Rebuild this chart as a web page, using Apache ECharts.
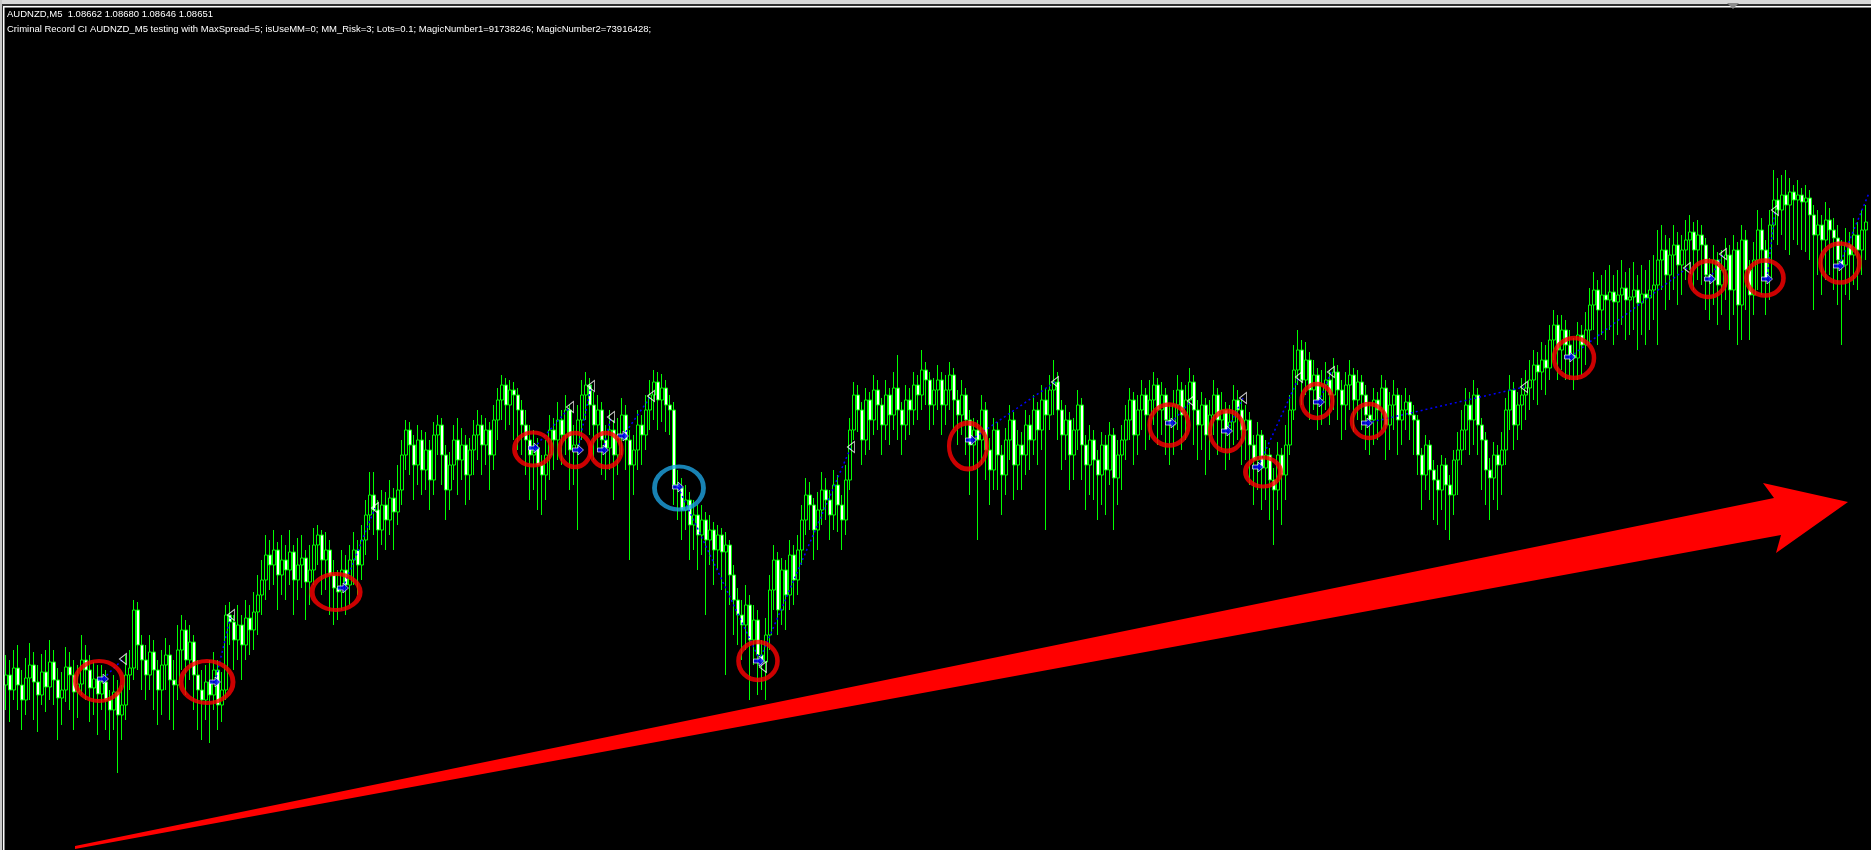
<!DOCTYPE html>
<html><head><meta charset="utf-8">
<script src="https://cdn.jsdelivr.net/npm/echarts@6/dist/echarts.min.js"></script>
<style>html,body{margin:0;padding:0;background:#000;overflow:hidden}#c{width:1871px;height:850px}</style>
</head><body><div id="c"></div>
<script>
// Prices are stored as points above BASE (1 point = 0.00001)
const BASE = 1.08022, POINT = 0.00001;

const openPts = [
165,175,160,182,165,150,172,185,168,155,178,163,188,170,152,160,183,175,158,166,190,180,162,171,
156,168,150,140,158,135,145,175,
182,240,205,
190,175,198,180,160,185,195,170,
165,200,220,190,208,175,
160,150,168,155,180,145,160,235,
228,210,225,205,232,220,
238,255,270,295,285,300,
275,290,280,298,270,285,292,268,
280,305,315,290,300,275,262,
258,280,265,290,300,285,310,335,
355,340,320,345,330,352,338,
360,395,420,405,385,
410,380,400,370,415,425,395,360,385,410,390,405,375,
400,415,425,405,420,395,
430,450,465,445,460,455,
440,425,410,395,402,385,375,395,420,410,
430,415,440,400,405,430,455,465,
445,425,440,410,402,420,395,415,
435,410,385,400,425,
415,440,455,468,450,462,
445,440,365,
362,340,350,325,335,315,330,
310,320,300,315,298,
305,275,250,235,
225,245,210,230,195,188,
215,260,290,240,280,
255,295,270,
300,330,355,345,320,340,360,
350,335,365,345,330,
370,420,455,440,410,
450,430,460,445,425,455,435,462,
440,425,450,440,465,455,480,470,445,
460,470,445,460,475,450,435,455,
430,405,420,410,
440,400,380,420,395,375,410,430,385,
405,395,425,410,440,420,450,435,460,
468,440,415,430,395,420,445,405,385,
410,390,375,405,380,415,372,395,
410,430,450,415,440,455,
435,450,465,440,455,430,425,445,460,435,450,468,
440,425,445,415,435,455,430,440,420,428,
450,440,420,430,405,390,415,382,
395,370,360,395,375,
405,440,480,500,470,490,460,475,450,
465,470,455,478,460,445,465,475,450,468,
455,435,430,450,440,462,425,445,455,430,
440,448,435,
430,395,375,405,380,
370,360,385,365,355,390,
400,420,445,430,455,425,
410,380,372,395,385,
400,440,460,425,445,455,
462,470,485,478,490,
482,510,525,500,520,
505,495,492,515,505,
520,545,560,540,
555,550,558,548,555,562,550,553,560,547,556,552,560,
565,590,600,575,595,605,585,
600,610,618,600,615,
605,575,570,590,565,580,
595,560,600,545,610,580,555,
590,620,600,572,
625,650,640,655,645,658,650,655,648,
652,635,615,625,610,630,620,
612,590,585,605,595,615,600,620
];

const closePts = [
175,160,182,165,150,172,185,168,155,178,163,188,170,152,160,183,175,158,166,190,180,162,171,156,
168,150,140,158,135,145,175,182,
240,205,190,
175,198,180,160,185,195,170,165,
200,220,190,208,175,160,
150,168,155,180,145,160,235,228,
210,225,205,232,220,238,
255,270,295,285,300,275,
290,280,298,270,285,292,268,280,
305,315,290,300,275,262,258,
280,265,290,300,285,310,335,355,
340,320,345,330,352,338,360,
395,420,405,385,410,
380,400,370,415,425,395,360,385,410,390,405,375,400,
415,425,405,420,395,430,
450,465,445,460,455,440,
425,410,395,402,385,375,395,420,410,430,
415,440,400,405,430,455,465,445,
425,440,410,402,420,395,415,435,
410,385,400,425,415,
440,455,468,450,462,445,
440,365,362,
340,350,325,335,315,330,310,
320,300,315,298,305,
275,250,235,225,
245,210,230,195,188,215,
260,290,240,280,255,
295,270,300,
330,355,345,320,340,360,350,
335,365,345,330,370,
420,455,440,410,450,
430,460,445,425,455,435,462,440,
425,450,440,465,455,480,470,445,460,
470,445,460,475,450,435,455,430,
405,420,410,440,
400,380,420,395,375,410,430,385,405,
395,425,410,440,420,450,435,460,468,
440,415,430,395,420,445,405,385,410,
390,375,405,380,415,372,395,410,
430,450,415,440,455,435,
450,465,440,455,430,425,445,460,435,450,468,440,
425,445,415,435,455,430,440,420,428,450,
440,420,430,405,390,415,382,395,
370,360,395,375,405,
440,480,500,470,490,460,475,450,465,
470,455,478,460,445,465,475,450,468,455,
435,430,450,440,462,425,445,455,430,440,
448,435,430,
395,375,405,380,370,
360,385,365,355,390,400,
420,445,430,455,425,410,
380,372,395,385,400,
440,460,425,445,455,462,
470,485,478,490,482,
510,525,500,520,505,
495,492,515,505,520,
545,560,540,555,
550,558,548,555,562,550,553,560,547,556,552,560,565,
590,600,575,595,605,585,600,
610,618,600,615,605,
575,570,590,565,580,595,
560,600,545,610,580,555,590,
620,600,572,625,
650,640,655,645,658,650,655,648,652,
635,615,625,610,630,620,612,
590,585,605,595,615,600,620,628
];

const highPts = [
195,190,200,205,180,192,207,198,185,196,200,210,200,182,178,203,198,190,185,215,205,195,188,185,
185,180,160,175,170,165,195,200,
250,248,215,
205,215,210,190,200,212,205,190,
225,235,230,225,215,190,
180,185,190,198,190,178,245,248,
235,245,235,250,245,258,
275,290,315,310,320,308,
315,305,320,305,312,315,300,305,
322,325,320,318,310,290,280,
300,295,305,318,310,325,350,378,
378,350,360,358,370,362,385,
410,430,428,415,425,
420,418,410,428,435,432,405,398,425,432,422,415,412,
430,440,435,432,428,445,
462,475,472,470,468,462,
450,440,425,420,412,395,410,435,432,448,
440,455,445,425,445,470,478,472,
458,455,448,425,440,430,432,452,
445,420,415,440,435,
455,470,480,478,476,470,
455,448,380,
372,365,358,350,345,345,338,
335,328,325,322,318,
310,285,262,250,
265,255,245,240,210,232,
275,305,298,292,290,
310,305,315,
345,372,368,352,358,378,372,
360,380,375,355,385,
432,468,465,448,462,
458,475,470,452,470,462,478,495,
448,465,462,478,475,500,488,478,472,
485,478,475,488,482,460,470,462,
440,432,430,455,
448,412,432,428,405,422,445,438,420,
418,440,435,455,448,465,462,475,490,
478,450,445,438,432,460,452,415,425,
420,400,418,415,428,422,410,425,
445,462,458,455,470,462,
470,478,472,468,462,445,460,475,468,465,482,475,
450,458,452,450,470,462,458,448,445,465,
460,450,445,438,415,428,420,410,
402,382,408,402,425,
455,505,520,510,508,498,490,482,480,
488,480,492,485,470,478,490,482,480,475,
465,448,462,458,475,470,458,470,462,455,
462,455,445,
435,402,415,410,390,
385,395,392,375,400,418,
440,462,458,470,462,432,
418,392,408,405,418,
452,475,468,458,472,480,
490,500,498,508,505,
525,540,535,535,530,
520,512,528,525,538,
562,578,570,575,
580,585,575,580,590,578,582,588,575,585,580,590,595,
620,625,615,612,625,618,615,
630,635,628,630,625,
612,592,605,598,600,612,
605,615,608,625,620,590,608,
640,632,610,640,
680,672,675,680,672,665,670,662,665,
660,645,640,635,648,642,632,
625,610,622,618,632,628,640,645
];

const lowPts = [
140,128,150,140,120,135,150,130,118,145,138,150,145,110,125,148,140,120,132,155,150,128,135,115,
140,120,110,120,77,110,130,160,
170,180,160,
150,160,140,125,135,160,130,120,
150,180,155,170,140,120,
110,130,107,140,120,128,150,205,
180,190,170,190,195,200,
215,235,250,260,265,240,
255,250,265,235,250,262,230,245,
265,285,255,260,235,225,230,
240,235,245,265,255,270,295,320,
315,290,305,300,315,300,325,
345,380,375,350,365,
355,360,340,355,395,365,330,340,370,355,370,345,350,
375,390,375,385,360,380,
410,430,420,425,410,400,
395,375,350,360,340,335,350,370,380,390,
385,395,360,365,320,410,430,415,
390,400,375,370,380,350,375,395,
380,290,355,380,385,
400,420,430,420,428,418,
415,345,330,
310,320,290,300,280,295,235,
285,265,280,260,175,
245,215,205,190,
200,150,185,155,160,150,
200,240,215,225,220,
240,245,255,
285,315,320,290,300,325,330,
310,320,318,300,315,
360,410,418,385,395,
400,415,420,395,410,405,420,410,
395,410,415,425,430,440,445,420,425,
440,415,425,440,420,405,415,395,
355,380,310,385,
370,345,360,360,335,355,390,350,360,
360,375,380,395,385,400,320,420,435,
410,380,390,360,370,400,370,340,355,
350,330,345,335,365,320,345,360,
390,410,385,395,420,400,
410,425,405,415,395,385,395,420,400,410,430,405,
390,400,375,390,415,395,400,380,390,405,
410,385,390,365,345,360,340,350,
330,305,340,325,350,
395,430,465,445,455,430,440,420,425,
440,425,440,430,410,420,440,418,430,420,
400,395,405,410,420,390,400,420,395,405,
420,410,395,
375,340,360,350,330,
325,340,320,310,335,355,
385,400,395,405,395,360,
345,330,350,340,355,
385,420,400,410,420,430,
440,450,445,460,455,
470,490,470,480,470,
470,460,470,475,485,
505,520,505,515,
510,520,505,515,525,510,515,520,500,515,505,520,530,
505,560,540,550,560,545,555,
570,580,560,570,565,
540,530,545,525,535,550,
520,535,505,510,540,510,535,
560,555,535,550,
610,605,615,600,595,610,605,600,598,
590,540,575,555,570,575,560,
545,505,555,550,565,560,575,590
];

// Trades: entry (blue arrow) and exit (white triangle), x in bar index, price in points
const entryX = [24.25,52.25,84.25,132,143,149.25,154.25,168,188.25,241.25,291.25,305.25,313,328.25,340.25,391,426,440.25,458.25];
const entryV = [171,168,262,402,400,400,414,363,189,410,427,419,383,448,427,493,571,571,584];
const exitX  = [29.25,56.25,92.25,141,146.25,151.25,161.25,189.25,211.25,262.25,296.25,309.25,323.25,331.25,379.5,420.25,429.25,442.25,465.75];
const exitV  = [191,235,342,443,464,433,454,183,403,468,449,452,473,478,463,582,596,640,657];
const exitShown = [1,1,1,1,1,1,1,1,1,1,1,1,1,1,1,1,1,1,0];

// Highlight ellipses around entries
const circleX = [23.25,50.25,82.5,131.75,142.25,150,168.25,188,240.5,290.75,305.25,314.25,327.75,340.75,392,425.5,439.75,458.5];
const circleV = [169,168,258,401,400,400,362,189,404,425,419,378,449,429,492,571,572,587];
const circleSize = [[47,40],[52,42],[48,36],[37,33],[31,34],[31,34],[49,43],[39,38],[38,46],[39,41],[34,40],[35,29],[31,34],[34,34],[40,40],[36,36],[37,35],[39,39]];
const circleColor = ['#ff0000','#ff0000','#ff0000','#ff0000','#ff0000','#ff0000','#1ea2e0','#ff0000','#ff0000','#ff0000','#ff0000','#ff0000','#ff0000','#ff0000','#ff0000','#ff0000','#ff0000','#ff0000'];

// Big trend arrow (bar index, points)
const arrowX = [17.25,443.75,442.5,460.5,439.25,442,17.25];
const arrowV = [1,315,297,348,367,352,4];

const headerLine1 = 'AUDNZD,M5  1.08662 1.08680 1.08646 1.08651';
const headerLine2 = 'Criminal Record CI AUDNZD_M5 testing with MaxSpread=5; isUseMM=0; MM_Risk=3; Lots=0.1; MagicNumber1=91738246; MagicNumber2=73916428;';

const price = p => +(BASE + p * POINT).toFixed(6);
const candleData = openPts.map((o, i) => [i, price(o), price(closePts[i]), price(lowPts[i]), price(highPts[i])]);

const chart = echarts.init(document.getElementById('c'), null, {renderer: 'canvas'});
const option = {
  animation: false,
  backgroundColor: '#000',
  grid: {left: 0, right: 0, top: 0, bottom: 0},
  xAxis: {type: 'value', min: -1.5, max: 466.25, show: false, splitLine: {show: false}},
  yAxis: {type: 'value', min: BASE, max: price(850), show: false, splitLine: {show: false}, scale: true},
  graphic: [
    {type: 'rect', shape: {x: 0, y: 0, width: 1871, height: 4}, style: {fill: '#d9d9d9'}, z: 100},
    {type: 'rect', shape: {x: 0, y: 4, width: 1871, height: 2}, style: {fill: '#303030'}, z: 100},
    {type: 'rect', shape: {x: 0, y: 6, width: 1871, height: 1.5}, style: {fill: '#ffffff'}, z: 100},
    {type: 'rect', shape: {x: 0, y: 0, width: 2, height: 850}, style: {fill: '#c8c8c8'}, z: 100},
    {type: 'rect', shape: {x: 2, y: 6, width: 1, height: 844}, style: {fill: '#303030'}, z: 100},
    {type: 'rect', shape: {x: 3, y: 6, width: 1.5, height: 844}, style: {fill: '#ffffff'}, z: 100},
    {type: 'polygon', shape: {points: [[1727, 3], [1739, 3], [1733, 9]]}, style: {fill: '#8c8c8c'}, z: 101},
    {type: 'text', x: 7, y: 9.5, style: {text: headerLine1, fill: '#ffffff', font: '9.5px "Liberation Sans"'}, z: 100},
    {type: 'text', x: 7, y: 24, style: {text: headerLine2, fill: '#ffffff', font: '9.5px "Liberation Sans"'}, z: 100}
  ],
  series: [
    {
      type: 'candlestick',
      dimensions: ['t', 'open', 'close', 'lowest', 'highest'],
      encode: {x: 't', y: ['open', 'close', 'lowest', 'highest']},
      data: candleData,
      barWidth: 3,
      itemStyle: {color: '#000000', color0: '#ffffff', borderColor: '#00ff00', borderColor0: '#00ff00', borderWidth: 1},
      silent: true, z: 2
    },
    {
      type: 'lines', coordinateSystem: 'cartesian2d', silent: true, z: 3,
      lineStyle: {color: '#0000ff', width: 1.5, type: [2, 3], opacity: 1},
      data: entryX.map((x, i) => ({coords: [[x, price(entryV[i])], [exitX[i], price(exitV[i])]]}))
    },
    {
      type: 'scatter', silent: true, z: 4,
      symbol: 'path://M8,0L8,12L0,6Z', symbolSize: [7, 11],
      itemStyle: {color: 'rgba(0,0,0,0)', borderColor: '#ffffff', borderWidth: 1},
      data: exitX.map((x, i) => exitShown[i] ? [x, price(exitV[i])] : null).filter(d => d)
    },
    {
      type: 'scatter', silent: true, z: 5,
      symbol: 'path://M0,3L5,3L5,0L10,5L5,10L5,7L0,7Z', symbolSize: [11, 10],
      itemStyle: {color: '#0000ff', borderColor: '#ffffff', borderWidth: 0.8},
      data: entryX.map((x, i) => [x, price(entryV[i])])
    },
    {
      type: 'scatter', silent: true, z: 6,
      symbol: 'circle',
      data: circleX.map((x, i) => ({
        value: [x, price(circleV[i])],
        symbolSize: circleSize[i],
        itemStyle: {color: 'rgba(0,0,0,0)', borderColor: circleColor[i], borderWidth: 4.5}
      }))
    },
    {
      type: 'custom', silent: true, z: 7, clip: false,
      data: [[0]],
      renderItem: (params, api) => ({
        type: 'polygon',
        shape: {points: arrowX.map((x, k) => api.coord([x, price(arrowV[k])]))},
        style: {fill: '#ff0000'}
      })
    }
  ]
};
chart.setOption(option);
</script>
</body></html>
